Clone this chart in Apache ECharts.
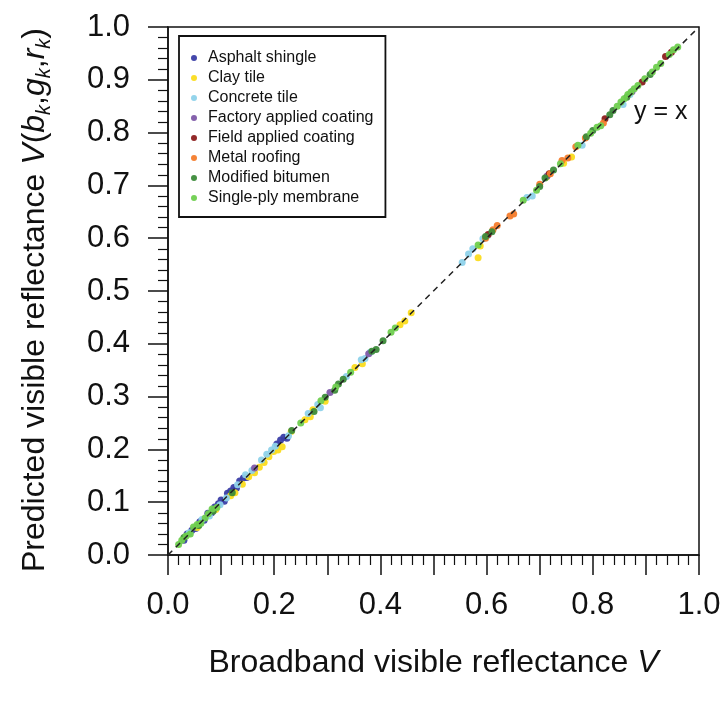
<!DOCTYPE html>
<html>
<head>
<meta charset="utf-8">
<script src="https://cdn.jsdelivr.net/npm/echarts@6/dist/echarts.min.js"></script>
<style>
  html, body { margin: 0; padding: 0; background: #fff; }
  #chart { width: 725px; height: 709px; }
</style>
</head>
<body>
<div id="chart"></div>
<script>
// [measured V, predicted V] pairs per roof product type
var asphaltShingle = [[0.030,0.028],[0.036,0.040],[0.045,0.047],[0.052,0.050],[0.060,0.063],[0.068,0.066],[0.075,0.079],[0.082,0.080],[0.088,0.091],[0.095,0.097],[0.100,0.104],[0.106,0.102],[0.112,0.117],[0.118,0.121],[0.124,0.128],[0.129,0.127],[0.135,0.140],[0.142,0.146],[0.148,0.147],[0.205,0.210],[0.212,0.218],[0.218,0.223],[0.224,0.221]];
var clayTile = [[0.055,0.052],[0.090,0.086],[0.118,0.112],[0.126,0.118],[0.140,0.134],[0.152,0.148],[0.163,0.156],[0.172,0.166],[0.181,0.175],[0.190,0.186],[0.199,0.196],[0.207,0.199],[0.215,0.205],[0.232,0.234],[0.258,0.256],[0.268,0.262],[0.273,0.275],[0.296,0.291],[0.352,0.355],[0.366,0.362],[0.437,0.436],[0.446,0.443],[0.458,0.459],[0.584,0.563],[0.588,0.585],[0.713,0.716],[0.745,0.742],[0.760,0.754]];
var concreteTile = [[0.040,0.042],[0.064,0.067],[0.078,0.074],[0.098,0.095],[0.110,0.108],[0.131,0.133],[0.146,0.152],[0.158,0.160],[0.176,0.180],[0.186,0.191],[0.195,0.199],[0.202,0.206],[0.227,0.226],[0.264,0.268],[0.282,0.285],[0.287,0.279],[0.336,0.338],[0.364,0.370],[0.371,0.372],[0.381,0.384],[0.554,0.554],[0.566,0.570],[0.574,0.580],[0.593,0.599],[0.602,0.605],[0.676,0.677],[0.686,0.680],[0.780,0.776],[0.857,0.853],[0.870,0.872]];
var factoryCoating = [[0.163,0.165],[0.305,0.308],[0.378,0.381],[0.714,0.718],[0.874,0.878]];
var fieldCoating = [[0.603,0.607],[0.718,0.722],[0.823,0.826],[0.893,0.896],[0.937,0.944],[0.948,0.952]];
var metalRoofing = [[0.598,0.600],[0.612,0.616],[0.620,0.624],[0.644,0.642],[0.651,0.646],[0.700,0.702],[0.720,0.722],[0.742,0.747],[0.753,0.752],[0.768,0.773],[0.786,0.790],[0.820,0.818]];
var modifiedBitumen = [[0.030,0.033],[0.058,0.056],[0.085,0.083],[0.121,0.118],[0.233,0.236],[0.275,0.272],[0.296,0.299],[0.314,0.312],[0.321,0.324],[0.330,0.333],[0.384,0.386],[0.392,0.389],[0.405,0.406],[0.598,0.603],[0.610,0.612],[0.700,0.698],[0.710,0.714],[0.726,0.729],[0.788,0.792],[0.800,0.804],[0.832,0.834],[0.838,0.842],[0.864,0.867],[0.908,0.910]];
var singlePly = [[0.020,0.020],[0.026,0.028],[0.034,0.036],[0.042,0.040],[0.048,0.053],[0.055,0.058],[0.062,0.060],[0.070,0.070],[0.076,0.078],[0.083,0.087],[0.092,0.090],[0.250,0.250],[0.288,0.292],[0.316,0.318],[0.344,0.346],[0.420,0.422],[0.428,0.430],[0.584,0.587],[0.669,0.672],[0.694,0.691],[0.739,0.741],[0.772,0.776],[0.796,0.799],[0.808,0.810],[0.815,0.813],[0.846,0.850],[0.853,0.858],[0.859,0.864],[0.866,0.872],[0.872,0.877],[0.878,0.883],[0.885,0.889],[0.898,0.902],[0.912,0.915],[0.920,0.924],[0.928,0.931],[0.944,0.948],[0.952,0.957],[0.960,0.962]];
var identityLine = [[0, 0], [1, 1]];

var seriesNames = ['Asphalt shingle', 'Clay tile', 'Concrete tile', 'Factory applied coating',
                   'Field applied coating', 'Metal roofing', 'Modified bitumen', 'Single-ply membrane'];
var seriesData = [asphaltShingle, clayTile, concreteTile, factoryCoating,
                  fieldCoating, metalRoofing, modifiedBitumen, singlePly];
var colors = ['#3b3ea6', '#fbdc1e', '#8ed2ea', '#7e5aa8', '#8c1d1d', '#f47c2c', '#3d8b3a', '#6fcf4f'];

var font = 'Liberation Sans, Arial, sans-serif';
var ink = '#111';

var myChart = echarts.init(document.getElementById('chart'));

var series = seriesNames.map(function (name, i) {
    return {
        name: name,
        type: 'scatter',
        data: seriesData[i],
        symbolSize: 7,
        itemStyle: { color: colors[i], opacity: 0.95 },
        z: 2
    };
});
series.push({
    name: 'y = x',
    type: 'line',
    data: identityLine,
    showSymbol: false,
    silent: true,
    lineStyle: { color: '#222', width: 1.5, type: [6, 5] },
    z: 3
});

var subRich = {
    i: { fontStyle: 'italic', fontSize: 32, lineHeight: 38, fontFamily: font, color: ink },
    s: { fontStyle: 'italic', fontSize: 20, lineHeight: 20, verticalAlign: 'bottom', fontFamily: font, color: ink }
};

option = {
    backgroundColor: '#fff',
    animation: false,
    grid: {
        left: 168,
        right: 26,
        top: 27,
        bottom: 154,
        show: true,
        borderColor: ink,
        borderWidth: 1.5
    },
    legend: {
        data: seriesNames,
        orient: 'vertical',
        left: 179,
        top: 36,
        icon: 'circle',
        itemWidth: 6,
        itemHeight: 6,
        itemGap: 4,
        padding: [14, 12, 11, 12],
        borderColor: ink,
        borderWidth: 1.8,
        backgroundColor: '#fff',
        textStyle: { fontSize: 16, lineHeight: 15, fontFamily: font, color: ink, padding: [0, 0, 0, 6] }
    },
    xAxis: {
        type: 'value',
        min: 0,
        max: 1,
        interval: 0.1,
        name: 'Broadband visible reflectance {i|V}',
        nameLocation: 'middle',
        nameGap: 89,
        nameTextStyle: { fontSize: 32, fontFamily: font, color: ink, rich: subRich },
        axisLine: { lineStyle: { color: ink, width: 1.5 } },
        axisTick: { length: 20, lineStyle: { color: ink, width: 1.5 } },
        minorTick: { show: true, splitNumber: 5, length: 10, lineStyle: { color: ink, width: 1.2 } },
        splitLine: { show: false },
        axisLabel: {
            margin: 35,
            fontSize: 31,
            fontFamily: font,
            color: ink,
            formatter: function (v) {
                return Math.round(v * 10) % 2 === 0 ? v.toFixed(1) : '';
            }
        }
    },
    yAxis: {
        type: 'value',
        min: 0,
        max: 1,
        interval: 0.1,
        name: 'Predicted visible reflectance {i|V}({i|b}{s|k},{i|g}{s|k},{i|r}{s|k})',
        nameLocation: 'middle',
        nameGap: 114,
        nameTextStyle: { fontSize: 32, lineHeight: 38, fontFamily: font, color: ink, rich: subRich, padding: [0, 18, 0, 0] },
        axisLine: { lineStyle: { color: ink, width: 1.5 } },
        axisTick: { length: 20, lineStyle: { color: ink, width: 1.5 } },
        minorTick: { show: true, splitNumber: 5, length: 10, lineStyle: { color: ink, width: 1.2 } },
        splitLine: { show: false },
        axisLabel: {
            margin: 38,
            fontSize: 31,
            fontFamily: font,
            color: ink,
            formatter: function (v) { return v.toFixed(1); }
        }
    },
    graphic: [{
        type: 'text',
        left: 634,
        top: 100,
        style: { text: 'y = x', fontSize: 25, fontFamily: font, fill: ink }
    }],
    series: series
};
myChart.setOption(option);
</script>
</body>
</html>
